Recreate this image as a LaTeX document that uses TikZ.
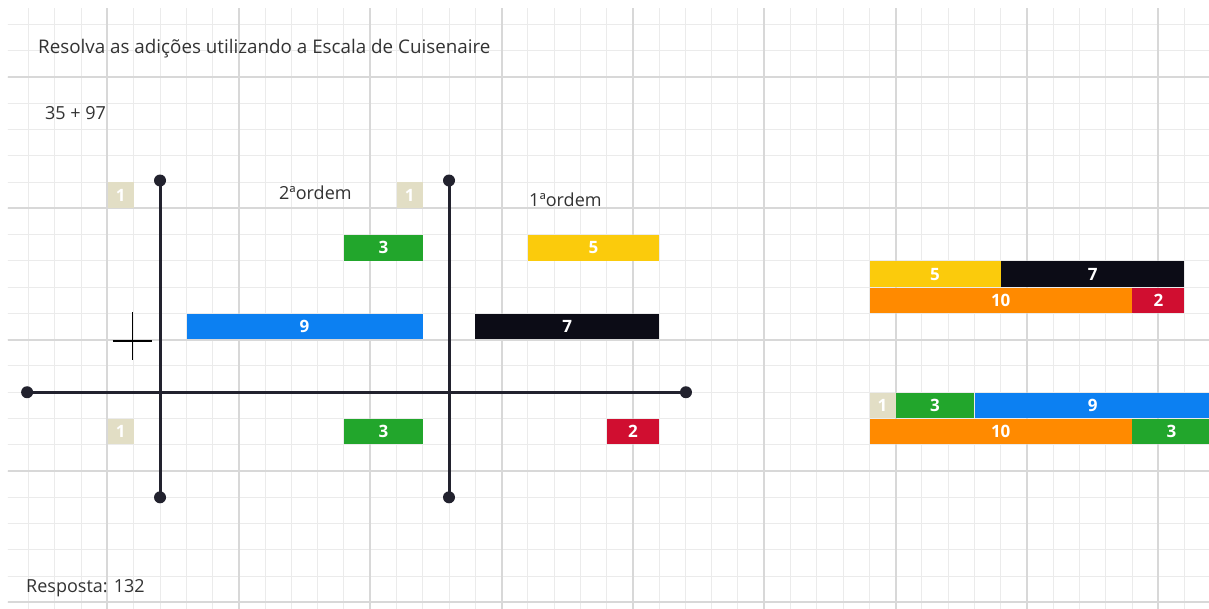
\documentclass[tikz,border=0pt]{standalone}
\usepackage{fontspec}
\setmainfont{Open Sans}
\definecolor{gridminor}{HTML}{EBEBEB}
\definecolor{gridmajor}{HTML}{D8D8D8}
\definecolor{axiscol}{HTML}{22222E}
\definecolor{txtcol}{HTML}{333333}
\definecolor{cbeige}{HTML}{E2DEC5}
\definecolor{cgreen}{HTML}{22A62C}
\definecolor{cyellow}{HTML}{FBCB0C}
\definecolor{cblue}{HTML}{0C80F2}
\definecolor{cblack}{HTML}{0C0C16}
\definecolor{cred}{HTML}{D00E30}
\definecolor{corange}{HTML}{FF8A00}
\begin{document}
\begin{tikzpicture}[x=26.27pt,y=-26.27pt,
  minor/.style={draw=gridminor,line width=1pt},
  major/.style={draw=gridmajor,line width=2pt},
  txt/.style={inner sep=0pt,anchor=west,text=txtcol,font=\fontsize{18}{21}\selectfont},
  axis/.style={draw=axiscol,line width=3pt},
  enddot/.style={fill=axiscol},
  bar/.style={rectangle,inner sep=0pt,anchor=west,minimum height=25.5pt,
    minimum width=#1*26.27pt-0.3pt,text=white,
    font=\fontsize{17}{20}\selectfont\bfseries}]
% page
\useasboundingbox (-4.0921,-2.9311) rectangle (41.930,20.251);
\fill[white] (-4.0921,-2.9311) rectangle (41.930,20.251);
% squared paper
\begin{scope}
\clip (-3.7876,-2.5885) rectangle (41.930,20.251);
\foreach \i in {-3,...,41} \draw[minor] (\i,-3) -- (\i,21);
\foreach \j in {-2,...,20} \draw[minor] (-4,\j) -- (42,\j);
\foreach \i in {0,5,...,40} \draw[major] (\i,-3) -- (\i,21);
\foreach \j in {0,5,...,20} \draw[major] (-4,\j) -- (42,\j);
\end{scope}
% texts
\node[txt,font=\fontsize{18.8}{22}\selectfont] (title) at (-2.6456,-1.066) {Resolva as adições utilizando a Escala de Cuisenaire};
\node[txt] (sum) at (-2.379,1.37) {35 + 97};
\node[txt] (ord2) at (6.528,4.416) {2ªordem};
\node[txt] (ord1) at (16.045,4.682) {1ªordem};
\node[txt] (resp) at (-3.102,19.45) {Resposta: 132};
% axes
\coordinate (v1t) at (2,3.94);
\coordinate (v1b) at (2,16);
\coordinate (v2t) at (13,3.94);
\coordinate (v2b) at (13,16);
\coordinate (hl) at (-3.06,12);
\coordinate (hr) at (22.02,12);
\draw[axis] (v1t) -- (v1b);
\draw[axis] (v2t) -- (v2b);
\draw[axis] (hl) -- (hr);
\foreach \p in {v1t,v1b,v2t,v2b,hl,hr} \fill[enddot] (\p) circle (6pt);
% plus sign
\draw[black,line width=1.5pt] (0.944,8.946) -- (0.944,10.77);
\draw[black,line width=1.5pt] (0.198,10.04) -- (1.705,10.04);
% rods in the place-value chart
\node[bar=1,fill=cbeige] (u1) at (0,4.5) {1};
\node[bar=1,fill=cbeige] (u2) at (11,4.5) {1};
\node[bar=3,fill=cgreen] (g3a) at (9,6.5) {3};
\node[bar=5,fill=cyellow] (y5a) at (16,6.5) {5};
\node[bar=9,fill=cblue] (b9a) at (3,9.5) {9};
\node[bar=7,fill=cblack] (k7a) at (14,9.5) {7};
\node[bar=1,fill=cbeige] (u3) at (0,13.5) {1};
\node[bar=3,fill=cgreen] (g3b) at (9,13.5) {3};
\node[bar=2,fill=cred] (r2a) at (19,13.5) {2};
% units: 5 + 7 = 10 + 2
\node[bar=5,fill=cyellow] (y5b) at (29,7.5) {5};
\node[bar=7,fill=cblack] (k7b) at (34,7.5) {7};
\node[bar=10,fill=corange] (o10a) at (29,8.5) {10};
\node[bar=2,fill=cred] (r2b) at (39,8.5) {2};
% tens: 1 + 3 + 9 = 10 + 3
\node[bar=1,fill=cbeige] (u4) at (29,12.5) {1};
\node[bar=3,fill=cgreen] (g3c) at (30,12.5) {3};
\node[bar=9,fill=cblue] (b9b) at (33,12.5) {9};
\node[bar=10,fill=corange] (o10b) at (29,13.5) {10};
\node[bar=3,fill=cgreen] (g3d) at (39,13.5) {3};
\end{tikzpicture}
\end{document}
